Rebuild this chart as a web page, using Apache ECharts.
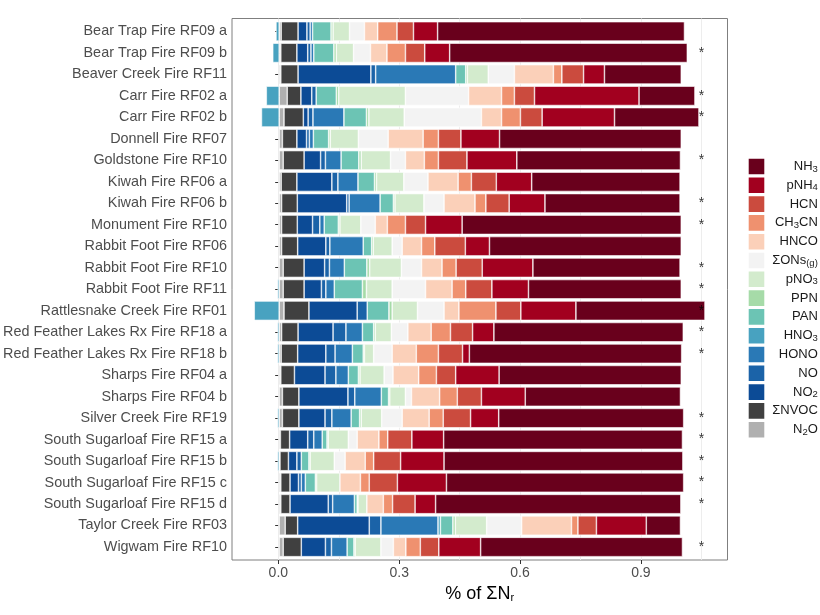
<!DOCTYPE html>
<html>
<head>
<meta charset="utf-8">
<script src="https://cdn.jsdelivr.net/npm/echarts@6/dist/echarts.min.js"></script>
<style>
  html, body { margin: 0; padding: 0; background: #fff; }
  #main { width: 820px; height: 615px; }
</style>
</head>
<body>
<div id="main"></div>
<script>
// fires, top to bottom
var fires = [
    'Bear Trap Fire RF09 a', 'Bear Trap Fire RF09 b', 'Beaver Creek Fire RF11',
    'Carr Fire RF02 a', 'Carr Fire RF02 b', 'Donnell Fire RF07', 'Goldstone Fire RF10',
    'Kiwah Fire RF06 a', 'Kiwah Fire RF06 b', 'Monument Fire RF10', 'Rabbit Foot Fire RF06',
    'Rabbit Foot Fire RF10', 'Rabbit Foot Fire RF11', 'Rattlesnake Creek Fire RF01',
    'Red Feather Lakes Rx Fire RF18 a', 'Red Feather Lakes Rx Fire RF18 b',
    'Sharps Fire RF04 a', 'Sharps Fire RF04 b', 'Silver Creek Fire RF19',
    'South Sugarloaf Fire RF15 a', 'South Sugarloaf Fire RF15 b',
    'South Sugarloaf Fire RF15 c', 'South Sugarloaf Fire RF15 d',
    'Taylor Creek Fire RF03', 'Wigwam Fire RF10'
];

// fraction of total reactive N, one value per fire
var N2O  = [0.005, 0.004, 0.004, 0.020, 0.012, 0.008, 0.010, 0.005, 0.006, 0.006, 0.006, 0.010, 0.010, 0.012, 0.006, 0.005, 0.004, 0.008, 0.008, 0.003, 0.002, 0.004, 0.004, 0.015, 0.010];
var NVOC = [0.042, 0.040, 0.043, 0.034, 0.048, 0.036, 0.052, 0.039, 0.039, 0.039, 0.040, 0.052, 0.052, 0.062, 0.041, 0.041, 0.034, 0.041, 0.041, 0.023, 0.021, 0.023, 0.023, 0.031, 0.045];
var NO2  = [0.022, 0.027, 0.181, 0.027, 0.012, 0.024, 0.041, 0.087, 0.123, 0.038, 0.070, 0.051, 0.043, 0.120, 0.087, 0.070, 0.076, 0.122, 0.065, 0.045, 0.021, 0.021, 0.095, 0.178, 0.060];
var NO   = [0.008, 0.008, 0.012, 0.011, 0.012, 0.007, 0.012, 0.015, 0.006, 0.018, 0.010, 0.012, 0.011, 0.025, 0.032, 0.023, 0.027, 0.017, 0.017, 0.015, 0.011, 0.007, 0.011, 0.029, 0.015];
var HONO = [0.006, 0.007, 0.199, 0, 0.077, 0.010, 0.039, 0.050, 0.077, 0.011, 0.083, 0.037, 0.021, 0, 0.041, 0.043, 0.031, 0.066, 0.048, 0.021, 0, 0.010, 0.054, 0.142, 0.039];
var HNO3 = [-0.008, -0.016, 0, -0.032, -0.044, 0, 0, 0, 0, 0, 0, 0, -0.004, -0.062, -0.004, -0.004, 0, 0, -0.004, 0, -0.004, 0, 0, 0.006, 0];
var PAN  = [0.046, 0.050, 0.025, 0.050, 0.056, 0.038, 0.044, 0.041, 0.033, 0.035, 0.021, 0.056, 0.070, 0.054, 0.028, 0.027, 0.025, 0.018, 0.021, 0.012, 0.019, 0.025, 0.007, 0.031, 0.017];
var PPN  = [0.005, 0.006, 0.004, 0.006, 0.006, 0.004, 0.006, 0.005, 0.004, 0.004, 0.004, 0.007, 0.010, 0.008, 0.004, 0.003, 0.004, 0.003, 0.004, 0.003, 0.003, 0.003, 0.002, 0.006, 0.003];
var pNO3 = [0.041, 0.043, 0.052, 0.166, 0.088, 0.070, 0.073, 0.068, 0.072, 0.052, 0.047, 0.079, 0.064, 0.063, 0.040, 0.023, 0.060, 0.039, 0.051, 0.050, 0.060, 0.058, 0.022, 0.078, 0.064];
var ONs  = [0.037, 0.042, 0.065, 0.157, 0.192, 0.074, 0.037, 0.060, 0.050, 0.036, 0.025, 0.050, 0.083, 0.066, 0.041, 0.046, 0.022, 0.015, 0.051, 0.022, 0.027, 0, 0, 0.087, 0.031];
var HNCO = [0.033, 0.041, 0.097, 0.082, 0.050, 0.087, 0.047, 0.075, 0.077, 0.030, 0.048, 0.051, 0.066, 0.037, 0.058, 0.060, 0.064, 0.070, 0.067, 0.054, 0.050, 0.051, 0.041, 0.124, 0.031];
var CH3CN = [0.048, 0.046, 0.021, 0.032, 0.047, 0.038, 0.035, 0.033, 0.027, 0.045, 0.033, 0.035, 0.034, 0.092, 0.048, 0.055, 0.044, 0.044, 0.035, 0.022, 0.021, 0.022, 0.023, 0.016, 0.036];
var HCN  = [0.041, 0.048, 0.054, 0.050, 0.054, 0.056, 0.071, 0.062, 0.058, 0.050, 0.076, 0.065, 0.065, 0.062, 0.055, 0.060, 0.048, 0.060, 0.068, 0.060, 0.067, 0.070, 0.056, 0.046, 0.046];
var pNH4 = [0.060, 0.062, 0.052, 0.260, 0.180, 0.096, 0.124, 0.088, 0.089, 0.091, 0.060, 0.126, 0.091, 0.137, 0.053, 0.017, 0.108, 0.109, 0.070, 0.079, 0.108, 0.122, 0.051, 0.124, 0.104];
var NH3  = [0.614, 0.591, 0.191, 0.139, 0.210, 0.452, 0.407, 0.369, 0.336, 0.545, 0.477, 0.366, 0.380, 0.321, 0.471, 0.528, 0.453, 0.386, 0.460, 0.594, 0.594, 0.590, 0.610, 0.085, 0.502];

// fires marked with an asterisk
var starred = [
    'Bear Trap Fire RF09 b', 'Carr Fire RF02 a', 'Carr Fire RF02 b', 'Goldstone Fire RF10',
    'Kiwah Fire RF06 b', 'Monument Fire RF10', 'Rabbit Foot Fire RF10', 'Rabbit Foot Fire RF11',
    'Rattlesnake Creek Fire RF01', 'Red Feather Lakes Rx Fire RF18 a',
    'Red Feather Lakes Rx Fire RF18 b', 'Silver Creek Fire RF19',
    'South Sugarloaf Fire RF15 a', 'South Sugarloaf Fire RF15 b',
    'South Sugarloaf Fire RF15 c', 'South Sugarloaf Fire RF15 d', 'Wigwam Fire RF10'
];
var starX = 1.05;

var xTicks = [0, 0.3, 0.6, 0.9];
var xGrid = [0, 0.15, 0.3, 0.45, 0.6, 0.75, 0.9, 1.05];

// stacking order, from zero outward
var species = [
    {key: 'N2O',   data: N2O,   color: '#b0b0b0', label: '{n|N}{s|2}{n|O}'},
    {key: 'NVOC',  data: NVOC,  color: '#404040', label: '{n|ΣNVOC}'},
    {key: 'NO2',   data: NO2,   color: '#0c4b96', label: '{n|NO}{s|2}'},
    {key: 'NO',    data: NO,    color: '#1b63a8', label: '{n|NO}'},
    {key: 'HONO',  data: HONO,  color: '#2a79b6', label: '{n|HONO}'},
    {key: 'HNO3',  data: HNO3,  color: '#48a2c0', label: '{n|HNO}{s|3}'},
    {key: 'PAN',   data: PAN,   color: '#6cc4b4', label: '{n|PAN}'},
    {key: 'PPN',   data: PPN,   color: '#a6dba8', label: '{n|PPN}'},
    {key: 'pNO3',  data: pNO3,  color: '#d3ebcd', label: '{n|pNO}{s|3}'},
    {key: 'ONs',   data: ONs,   color: '#f3f3f3', label: '{n|ΣONs}{s|(g)}'},
    {key: 'HNCO',  data: HNCO,  color: '#fbd0b9', label: '{n|HNCO}'},
    {key: 'CH3CN', data: CH3CN, color: '#ef916f', label: '{n|CH}{s|3}{n|CN}'},
    {key: 'HCN',   data: HCN,   color: '#cb4b3e', label: '{n|HCN}'},
    {key: 'pNH4',  data: pNH4,  color: '#a2001f', label: '{n|pNH}{s|4}'},
    {key: 'NH3',   data: NH3,   color: '#69001c', label: '{n|NH}{s|3}'}
];

var FONT = '"Liberation Sans", Arial, Helvetica, sans-serif';
var X_MIN = -0.115, X_MAX = 1.115;

var labelMap = {};
species.forEach(function (s) { labelMap[s.key] = s.label; });

var series = species.map(function (s) {
    return {
        name: s.key,
        type: 'bar',
        stack: 'total',
        xAxisIndex: 1,
        yAxisIndex: 1,
        z: 3,
        barWidth: '90%',
        itemStyle: {color: s.color, borderColor: '#ffffff', borderWidth: 0.6},
        data: s.data.map(function (v) { return v === 0 ? null : v; })
    };
});

// gridlines, drawn under the bars
series.unshift({
    type: 'line',
    xAxisIndex: 0,
    yAxisIndex: 0,
    z: 1,
    data: [],
    markLine: {
        silent: true,
        z: 1,
        symbol: ['none', 'none'],
        label: {show: false},
        lineStyle: {color: '#ebebeb', width: 0.9, type: 'solid'},
        data: xGrid.map(function (v) { return {xAxis: v}; })
    }
});

series.push({
    type: 'scatter',
    xAxisIndex: 1,
    yAxisIndex: 1,
    z: 5,
    symbolSize: 1,
    itemStyle: {color: 'rgba(0,0,0,0)'},
    label: {
        show: true, position: 'inside', formatter: '*',
        color: '#000', fontSize: 14, fontFamily: FONT
    },
    data: starred.map(function (f) { return [starX, f]; })
});

var myChart = echarts.init(document.getElementById('main'));
var option = {
    animation: false,
    backgroundColor: '#ffffff',
    grid: [
        // panel frame
        {left: 232, top: 18.5, width: 495.5, height: 541.5, show: true,
         borderColor: '#7f7f7f', borderWidth: 1, backgroundColor: 'transparent'},
        // bars, inset like ggplot's discrete expansion
        {left: 232, top: 20.65, width: 495.5, height: 537.1}
    ],
    xAxis: [{
        gridIndex: 0,
        type: 'value',
        min: X_MIN,
        max: X_MAX,
        axisLine: {show: false},
        splitLine: {show: false},
        axisTick: {show: true, customValues: xTicks, length: 4, lineStyle: {color: '#333'}},
        axisLabel: {
            customValues: xTicks, margin: 6, fontSize: 14, color: '#4d4d4d', fontFamily: FONT,
            formatter: function (v) { return v.toFixed(1); }
        },
        name: '{n|% of ΣN}{s|r}',
        nameLocation: 'middle',
        nameGap: 19,
        nameTextStyle: {
            rich: {
                n: {fontSize: 18, color: '#000', fontFamily: FONT},
                s: {fontSize: 11, color: '#000', fontFamily: FONT, padding: [9, 0, 0, 0]}
            }
        }
    }, {
        gridIndex: 1,
        type: 'value',
        min: X_MIN,
        max: X_MAX,
        show: false
    }],
    yAxis: [{
        gridIndex: 0,
        type: 'value',
        min: 0,
        max: 1,
        show: false
    }, {
        gridIndex: 1,
        type: 'category',
        inverse: true,
        data: fires,
        axisLine: {show: false},
        axisTick: {show: true, alignWithLabel: true, length: 4, lineStyle: {color: '#333'}},
        splitLine: {show: false},
        axisLabel: {interval: 0, margin: 6, fontSize: 14.4, color: '#4d4d4d', fontFamily: FONT}
    }],
    legend: {
        orient: 'vertical',
        left: 746.7,
        top: 156.7,
        padding: 0,
        itemWidth: 17.6,
        itemHeight: 17.6,
        itemGap: -0.8,
        icon: 'rect',
        selectedMode: false,
        data: species.slice().reverse().map(function (s) { return s.key; }),
        formatter: function (name) { return labelMap[name]; },
        textStyle: {
            width: 47.5,
            rich: {
                n: {fontSize: 13, lineHeight: 13, color: '#1a1a1a', fontFamily: FONT, align: 'right'},
                s: {fontSize: 9.5, lineHeight: 9, color: '#1a1a1a', fontFamily: FONT, align: 'right', padding: [5, 0, 0, 0]}
            }
        }
    },
    series: series
};
myChart.setOption(option);
</script>
</body>
</html>
